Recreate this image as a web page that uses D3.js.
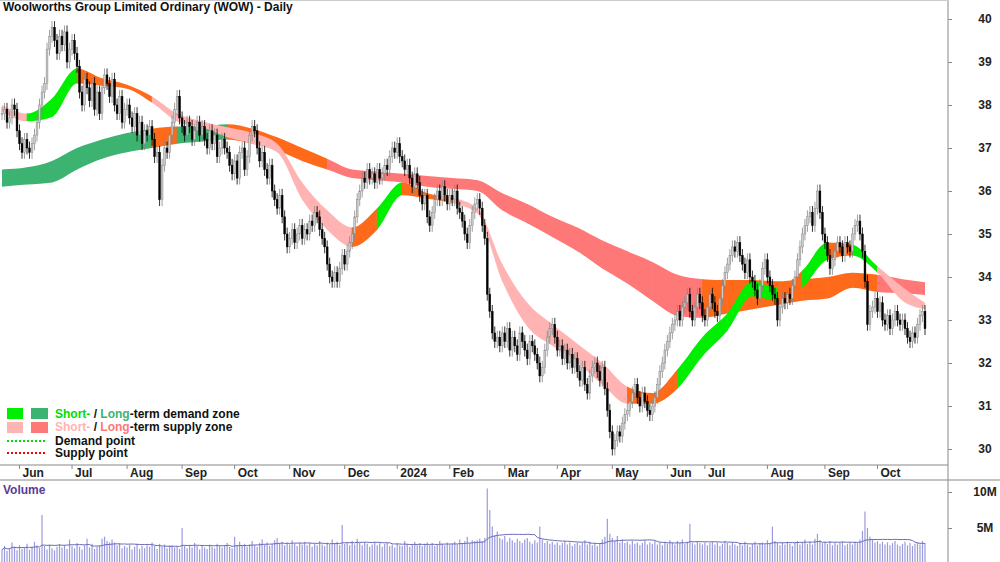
<!DOCTYPE html>
<html><head><meta charset="utf-8">
<script src="https://cdn.jsdelivr.net/npm/d3@7"></script>
<style>body{margin:0;background:#fff}svg{font-family:Arial,"Liberation Sans",sans-serif}</style>
</head><body><svg id="c" width="1000" height="562"></svg>
<script>
const closes=[
37.8,37.9,37.6,37.7,38.0,37.9,37.4,37.1,36.9,37.2,
37.0,36.9,37.1,37.3,37.6,38.0,38.3,38.5,39.3,39.6,
39.8,39.5,39.2,39.6,39.4,39.7,39.0,39.3,39.5,39.2,
38.9,38.3,38.0,38.6,38.4,38.1,38.5,37.9,38.3,37.8,
38.4,38.7,38.5,38.2,38.6,38.0,37.8,38.2,37.6,37.9,
38.0,37.7,37.5,37.8,37.3,37.6,37.1,37.4,37.3,37.5,
37.2,36.8,36.9,35.8,36.6,37.0,36.9,37.3,37.6,37.9,
38.2,37.7,37.5,37.3,37.6,37.5,37.2,37.4,37.6,37.3,
37.5,37.2,37.0,37.4,37.1,37.3,36.8,37.0,37.2,37.0,
36.9,36.6,36.4,36.7,36.3,36.9,37.0,36.5,36.8,37.3,
37.5,37.4,37.0,36.7,36.9,36.5,36.3,36.6,36.0,35.8,
35.6,35.9,35.4,35.0,34.7,34.9,35.1,34.8,35.0,35.2,
34.9,35.1,35.0,35.3,35.2,35.5,35.4,35.1,34.9,34.7,
34.3,34.0,33.9,34.1,33.9,34.2,34.5,34.3,34.6,34.8,
35.0,35.4,35.8,36.0,36.3,36.2,36.5,36.3,36.4,36.2,
36.5,36.3,36.4,36.6,36.5,36.8,37.0,36.9,37.1,36.8,
36.7,36.5,36.6,36.3,36.1,36.4,36.2,35.9,35.7,35.9,
35.4,35.2,35.5,35.8,36.0,35.8,36.1,35.9,35.7,35.9,
35.8,36.0,35.6,35.5,35.3,35.0,34.8,35.2,35.5,35.7,
35.8,35.6,35.2,34.9,33.6,33.2,32.7,32.5,32.6,32.4,
32.7,32.5,32.8,32.3,32.6,32.4,32.2,32.7,32.5,32.3,
32.1,32.5,32.4,32.2,32.0,31.7,31.9,32.3,32.6,32.8,
32.9,32.6,32.3,32.4,32.1,32.3,32.0,32.2,31.9,32.1,
31.8,31.6,31.9,31.5,31.3,31.7,31.9,32.0,31.8,31.6,
31.9,31.4,30.9,30.4,30.0,30.2,30.4,30.3,30.6,30.8,
30.9,31.1,31.3,31.5,31.2,31.0,31.3,31.1,30.9,30.8,
31.0,31.2,31.5,31.8,32.0,32.3,32.5,32.7,32.9,33.0,
33.2,33.0,33.3,33.4,33.6,33.2,33.0,33.3,33.6,33.4,
33.1,33.0,33.3,33.6,33.4,33.2,33.1,33.5,33.8,34.1,
34.3,34.5,34.7,34.6,34.8,34.5,34.3,34.1,34.4,34.0,
33.9,33.7,33.5,33.8,34.2,34.4,34.0,33.8,33.6,33.5,
33.0,33.3,33.5,33.4,33.6,33.5,33.8,34.0,34.4,34.7,
35.0,35.2,35.4,35.5,35.2,35.6,36.0,35.5,35.0,34.8,
34.5,34.2,34.4,34.6,34.8,34.7,34.5,34.8,34.7,34.6,
35.0,35.2,35.3,35.0,34.6,33.9,32.9,33.2,33.3,33.5,
33.2,33.4,33.0,32.9,33.1,32.8,33.0,33.2,33.0,32.9,
33.0,32.8,32.6,32.5,32.7,32.6,32.9,33.1,33.2,32.8];
const volumes=[
2.0,2.5,1.8,2.2,3.0,2.4,1.9,2.6,2.1,2.3,
2.8,2.0,2.4,3.1,2.6,2.2,6.8,2.5,2.0,2.7,
2.2,1.9,2.4,2.8,2.3,2.6,2.1,3.4,2.5,2.2,
2.9,2.4,2.0,2.6,3.5,2.3,2.8,2.1,2.4,2.6,
3.5,3.8,3.2,3.0,3.4,3.0,2.6,2.9,2.2,2.5,
2.3,2.7,2.0,2.4,2.8,2.1,2.5,2.2,2.6,2.4,
3.0,2.5,2.1,2.8,2.4,2.7,2.2,2.6,2.6,2.3,
2.4,2.1,5.0,2.5,2.2,2.6,2.3,2.9,2.5,2.0,
2.6,2.3,2.1,2.7,2.4,2.2,2.8,2.5,2.3,2.6,
2.9,2.4,2.2,3.8,2.6,3.1,2.5,2.8,2.4,2.7,
3.2,2.6,2.4,2.9,3.4,2.7,3.0,2.5,2.8,3.3,
3.6,2.9,3.1,2.6,3.0,2.7,3.3,2.8,2.5,3.0,
2.7,3.1,2.6,2.9,2.4,2.8,2.6,3.2,2.7,2.5,
3.0,2.7,3.4,2.9,3.1,2.6,5.4,2.8,3.0,2.6,
3.2,2.7,3.5,2.9,2.6,3.0,2.8,2.4,2.7,3.1,
2.6,2.9,2.4,2.8,3.0,2.5,2.7,2.3,2.9,2.6,
2.5,3.2,2.8,2.4,2.7,3.1,2.6,2.9,2.5,2.8,
3.0,2.6,2.9,2.5,2.7,3.2,2.8,2.6,3.0,2.7,
2.8,3.1,2.7,3.4,2.9,3.2,3.8,2.9,3.3,3.2,
3.3,3.5,3.2,3.6,10.5,7.5,5.2,4.0,4.5,3.6,
3.4,3.9,3.1,3.6,3.3,3.0,3.5,3.2,2.9,3.4,
3.6,3.1,2.8,3.3,3.0,5.2,3.4,2.9,3.2,2.8,
3.1,2.7,3.0,2.6,2.9,3.2,2.7,3.0,2.5,2.8,
3.0,2.6,2.9,3.3,2.7,3.1,2.6,2.9,2.5,2.8,
3.4,3.8,6.3,4.2,3.6,3.2,3.9,3.0,3.4,2.9,
3.1,2.7,3.2,2.8,3.0,2.6,2.9,3.3,2.7,3.0,
2.8,3.2,2.7,3.0,2.6,3.1,2.8,3.3,3.0,2.7,
3.2,2.9,3.4,2.8,3.1,5.6,3.0,2.7,3.2,2.9,
2.7,3.0,2.6,2.9,3.1,2.7,3.0,2.5,2.8,3.2,
2.9,2.6,3.0,2.7,2.5,2.9,2.6,3.1,2.7,2.4,
2.8,3.1,2.6,2.9,3.0,2.7,3.3,2.8,5.2,3.2,
2.9,2.6,3.0,2.7,3.1,2.8,2.5,2.9,3.2,2.7,
3.0,3.4,2.8,3.1,2.7,3.5,4.2,3.3,2.9,3.1,
2.8,3.2,2.6,3.0,2.7,2.9,3.1,2.6,2.8,3.0,
2.7,3.1,2.9,3.4,4.6,7.3,5.0,3.8,3.4,3.0,
3.2,2.8,3.1,2.7,3.0,2.6,2.9,3.2,2.7,2.5,
2.8,3.1,2.6,2.9,2.5,2.8,3.0,2.7,3.2,2.9];
const zoneIdx=[0,10,20,30,40,50,60,70,80,90,100,110,120,130,140,150,160,170,180,190,200,210,220,230,240,250,260,270,280,290,300,310,320,330,340,350,360,369];
const shortHi=[38.0,37.8,38.15,38.85,38.62,38.47,38.2,37.8,37.62,37.48,37.35,37.1,36.2,35.55,35.15,35.6,36.2,35.95,35.85,35.6,34.3,33.4,32.9,32.45,32.0,31.45,31.3,31.85,32.6,33.15,33.9,33.75,34.15,34.8,34.75,34.25,33.77,33.4];
const shortLo=[37.85,37.62,37.72,38.5,38.45,38.38,38.05,37.62,37.48,37.25,37.1,36.9,35.8,35.1,34.7,35.1,35.9,35.82,35.72,35.48,33.9,32.85,32.4,32.0,31.5,31.05,31.05,31.4,32.15,32.75,33.55,33.45,33.75,34.4,34.5,34.1,33.45,33.25];
const shortKind=["p","g","g","o","o","o","p","p","p","p","p","p","p","p","o","g","o","o","p","p","p","p","p","p","p","o","o","g","g","g","g","o","g","o","g","p","p"];
const longHi=[36.5,36.55,36.7,37.0,37.2,37.35,37.45,37.5,37.5,37.55,37.45,37.25,37.0,36.75,36.5,36.45,36.4,36.35,36.3,36.25,35.95,35.7,35.4,35.15,34.85,34.6,34.35,34.05,33.95,33.93,33.93,33.9,33.95,34.0,34.1,34.05,33.95,33.88];
const longLo=[36.1,36.15,36.2,36.5,36.75,36.9,37.0,37.1,37.15,37.2,37.1,36.95,36.7,36.5,36.3,36.25,36.2,36.1,36.05,36.0,35.55,35.25,34.93,34.6,34.2,33.85,33.45,33.1,33.05,33.15,33.25,33.35,33.45,33.5,33.75,33.65,33.62,33.58];
const longKind=["G","G","G","G","G","G","o","G","G","o","o","o","o","s","s","s","s","s","s","s","s","s","s","s","s","s","s","s","o","o","o","o","o","o","o","s","s"];
const monthLabels=["Jun","Jul","Aug","Sep","Oct","Nov","Dec","2024","Feb","Mar","Apr","May","Jun","Jul","Aug","Sep","Oct"];
const monthIdx=[7,28,50,72,93,115,137,158,179,201,222,244,266,281,306,329,350];
const priceTicks=[30,31,32,33,34,35,36,37,38,39,40];
const volTicks=[5,10];

const colors={g:"#00ee00",G:"#3cb371",p:"#ffb3b3",s:"#ff7878",o:"#ff6a1a"};
const svg=d3.select("#c");
const N=closes.length;
const x=d3.scaleLinear().domain([0,N-1]).range([2,925]);
const y=d3.scaleLinear().domain([30,40]).range([449,19]);
const yv=d3.scaleLinear().domain([0,10]).range([564,492]);

const defs=svg.append("defs");
function drawZone(hi,lo,kind,name){
  const pts=zoneIdx.map((d,i)=>({i:d,hi:hi[i],lo:lo[i]}));
  const area=d3.area().x(d=>x(d.i)).y0(d=>y(d.lo)).y1(d=>y(d.hi)).curve(d3.curveMonotoneX);
  const dstr=area(pts);
  kind.forEach((k,j)=>{
    const id=name+j;
    defs.append("clipPath").attr("id",id).append("rect")
      .attr("x",x(zoneIdx[j])-0.3).attr("width",x(zoneIdx[j+1])-x(zoneIdx[j])+0.6).attr("y",0).attr("height",470);
    svg.append("path").attr("d",dstr).attr("fill",colors[k]).attr("clip-path",`url(#${id})`);
  });
}
drawZone(longHi,longLo,longKind,"L");
drawZone(shortHi,shortLo,shortKind,"S");

const opens=closes.map((c,i)=>i?closes[i-1]:c);
const g=svg.append("g");
closes.forEach((c,i)=>{
  const o=opens[i],up=c>=o;
  const hi=Math.max(o,c)+0.15,lo=Math.min(o,c)-0.15;
  g.append("line").attr("x1",x(i)).attr("x2",x(i)).attr("y1",y(hi)).attr("y2",y(lo)).attr("stroke",up?"#888":"#000").attr("stroke-width",0.8);
  const top=y(Math.max(o,c)),h=Math.max(1,Math.abs(y(o)-y(c)));
  g.append("rect").attr("x",x(i)-0.9).attr("width",1.8).attr("y",top).attr("height",h)
   .attr("fill",up?"#ccc":"#000").attr("stroke",up?"#888":"#000").attr("stroke-width",0.5);
});

svg.append("line").attr("x1",948).attr("x2",948).attr("y1",0).attr("y2",562).attr("stroke","#888");
svg.append("line").attr("x1",0).attr("x2",948).attr("y1",465).attr("y2",465).attr("stroke","#888");
svg.append("line").attr("x1",0).attr("x2",1000).attr("y1",480).attr("y2",480).attr("stroke","#888");
svg.append("line").attr("x1",0).attr("x2",948).attr("y1",0.5).attr("y2",0.5).attr("stroke","#ccc");

const pa=svg.append("g").attr("transform","translate(948,0)").call(d3.axisRight(y).tickValues(priceTicks).tickSize(4).tickFormat(d3.format("d")));
pa.select(".domain").remove();
pa.selectAll("line").attr("stroke","#888");
pa.selectAll("text").attr("x",37).attr("text-anchor","middle").attr("font-size",12).attr("font-weight","bold").attr("fill","#222");

const ma=svg.append("g");
monthIdx.forEach((d,i)=>{
  ma.append("line").attr("x1",x(d)).attr("x2",x(d)).attr("y1",465).attr("y2",469).attr("stroke","#888");
  ma.append("text").attr("x",x(d)+3).attr("y",477).attr("font-size",12).attr("font-weight","bold").attr("fill","#222").text(monthLabels[i]);
});

const vg=svg.append("g");
volumes.forEach((v,i)=>vg.append("line").attr("x1",x(i)).attr("x2",x(i)).attr("y1",yv(0)).attr("y2",yv(v)).attr("stroke","#9a9ade").attr("stroke-width",1.2));
const ma20=volumes.map((v,i)=>d3.mean(volumes.slice(Math.max(0,i-19),i+1)));
svg.append("path").attr("d",d3.line().x((d,i)=>x(i)).y(d=>yv(d))(ma20)).attr("fill","none").attr("stroke","#6a6ab8").attr("stroke-width",1);
const va=svg.append("g").attr("transform","translate(948,0)").call(d3.axisRight(yv).tickValues(volTicks).tickSize(4).tickFormat(d=>d+"M"));
va.select(".domain").remove();
va.selectAll("line").attr("stroke","#888");
va.selectAll("text").attr("x",37).attr("text-anchor","middle").attr("font-size",12).attr("font-weight","bold").attr("fill","#222");
svg.append("text").attr("x",3).attr("y",494).attr("font-size",12).attr("font-weight","bold").attr("fill","#5b3a9a").text("Volume");

svg.append("text").attr("x",3).attr("y",11).attr("font-size",12).attr("font-weight","bold").attr("fill","#111").text("Woolworths Group Limited Ordinary (WOW) - Daily");

const lg=svg.append("g").attr("font-size",12).attr("font-weight","bold");
lg.append("rect").attr("x",7).attr("y",408).attr("width",16).attr("height",11).attr("fill",colors.g);
lg.append("rect").attr("x",31).attr("y",408).attr("width",17).attr("height",11).attr("fill",colors.G);
lg.append("rect").attr("x",7).attr("y",422).attr("width",16).attr("height",11).attr("fill",colors.p);
lg.append("rect").attr("x",31).attr("y",422).attr("width",17).attr("height",11).attr("fill",colors.s);
const t1=lg.append("text").attr("x",55).attr("y",418);
t1.append("tspan").attr("fill","#00dd00").text("Short-");
t1.append("tspan").attr("fill","#111").text(" / ");
t1.append("tspan").attr("fill","#3cb371").text("Long");
t1.append("tspan").attr("fill","#111").text("-term demand zone");
const t2=lg.append("text").attr("x",55).attr("y",431);
t2.append("tspan").attr("fill","#ffb3b3").text("Short-");
t2.append("tspan").attr("fill","#111").text(" / ");
t2.append("tspan").attr("fill","#ff7878").text("Long");
t2.append("tspan").attr("fill","#111").text("-term supply zone");
lg.append("line").attr("x1",7).attr("x2",47).attr("y1",441).attr("y2",441).attr("stroke","#00dd00").attr("stroke-width",2).attr("stroke-dasharray","2,2");
lg.append("line").attr("x1",7).attr("x2",47).attr("y1",453).attr("y2",453).attr("stroke","#ee0000").attr("stroke-width",2).attr("stroke-dasharray","2,2");
lg.append("text").attr("x",55).attr("y",445).attr("fill","#111").text("Demand point");
lg.append("text").attr("x",55).attr("y",457).attr("fill","#111").text("Supply point");
</script></body></html>
